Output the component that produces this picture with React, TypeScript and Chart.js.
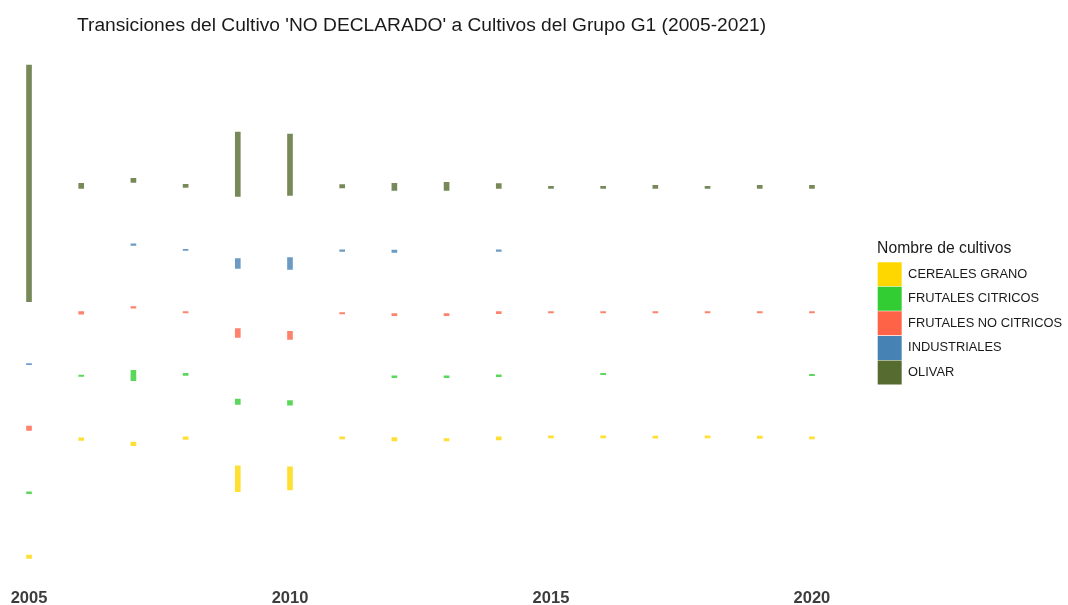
import React, { useEffect, useRef } from "react";
import { Chart, registerables } from "chart.js";

Chart.register(...registerables);

const FONT = '"Liberation Sans", Arial, sans-serif';

const titleText = "Transiciones del Cultivo 'NO DECLARADO' a Cultivos del Grupo G1 (2005-2021)";
const legendTitle = "Nombre de cultivos";

const years = [2005, 2006, 2007, 2008, 2009, 2010, 2011, 2012, 2013, 2014, 2015, 2016, 2017, 2018, 2019, 2020];
const xTickYears = [2005, 2010, 2015, 2020];

const categories = ["CEREALES GRANO", "FRUTALES CITRICOS", "FRUTALES NO CITRICOS", "INDUSTRIALES", "OLIVAR"];
const legendColors = ["#FFD700", "#32CD32", "#FF6347", "#4682B4", "#556B2F"];
const barColors = [
  "rgba(255,215,0,0.8)",
  "rgba(50,205,50,0.8)",
  "rgba(255,99,71,0.8)",
  "rgba(70,130,180,0.8)",
  "rgba(85,107,47,0.8)",
];

// stratum extents (lower / upper) per year
const cerealesLow = [42.7, 160.3, 155.3, 161.3, 109.3, 111, 162, 160, 160, 161, 163, 163, 162.7, 163, 162.3, 162];
const cerealesHigh = [46, 163, 158.7, 164, 135, 134, 164, 163.3, 162.3, 164, 165, 165, 164.7, 165, 164.7, 164];

const citricosLow = [107.3, 224.3, 220, 225.3, 196.3, 195.7, null, 223, 223, 224, null, 226, null, null, null, 225];
const citricosHigh = [109, 225.7, 230.3, 227.3, 201.7, 200.3, null, 225, 225, 226, null, 227.3, null, null, null, 226.3];

const noCitricosLow = [170.3, 286.3, 292.3, 287.7, 263.3, 261.3, 286.7, 285, 285, 287, 287.7, 287.7, 287.7, 287.7, 287.7, 287.7];
const noCitricosHigh = [174.7, 289, 294, 289, 272, 269.3, 288, 287, 287, 289, 289, 289, 289, 289, 289, 289];

const industrialesLow = [236, null, 355, 350, 332, 331, 349, 348, null, 349, null, null, null, null, null, null];
const industrialesHigh = [237, null, 356.7, 351, 342, 343, 350.7, 350.3, null, 350.7, null, null, null, null, null, null];

const olivarLow = [299, 412, 418, 413, 404, 405, 412.3, 410, 410, 412, 412, 412, 412, 412, 412, 412];
const olivarHigh = [535, 417, 422, 416, 468, 466, 415.7, 417, 418, 416.7, 414, 414, 415, 414, 415, 415];

const lows = [cerealesLow, citricosLow, noCitricosLow, industrialesLow, olivarLow];
const highs = [cerealesHigh, citricosHigh, noCitricosHigh, industrialesHigh, olivarHigh];

const titlePlugin = {
  id: "leftTitle",
  afterDraw(chart: any) {
    const ctx = chart.ctx;
    ctx.save();
    ctx.font = `19.2px ${FONT}`;
    ctx.fillStyle = "#1a1a1a";
    ctx.textBaseline = "alphabetic";
    ctx.textAlign = "left";
    ctx.fillText(titleText, 77, 31);
    ctx.restore();
  },
};

export default function App() {
  const canvasRef = useRef<HTMLCanvasElement | null>(null);

  useEffect(() => {
    if (!canvasRef.current) return;
    const datasets = categories.map((name, ci) => ({
      label: name,
      data: years
        .map((yr, i) => (lows[ci][i] == null ? null : { x: yr, y: [lows[ci][i], highs[ci][i]] }))
        .filter((p) => p !== null),
      backgroundColor: barColors[ci],
      borderWidth: 0,
      barThickness: 5,
      grouped: false,
    }));

    const chart = new Chart(canvasRef.current, {
      type: "bar",
      data: { datasets: datasets as any },
      plugins: [titlePlugin],
      options: {
        animation: false,
        responsive: true,
        maintainAspectRatio: false,
        layout: { padding: { top: 40, right: -4, bottom: -7, left: 0 } },
        scales: {
          x: {
            type: "linear",
            offset: false,
            min: 2004.444,
            max: 2021.248,
            grid: { display: false, drawTicks: false },
            border: { display: false },
            afterBuildTicks: (scale: any) => {
              scale.ticks = xTickYears.map((v) => ({ value: v }));
            },
            ticks: {
              padding: 4,
              color: "#3d3d3d",
              font: { family: FONT, size: 16.5, weight: "bold", lineHeight: 1.1 },
              callback: (v: any) => String(v),
            },
          },
          y: {
            display: false,
            min: 15.3,
            max: 560,
          },
        },
        plugins: {
          title: { display: false },
          tooltip: { enabled: false },
          legend: {
            position: "right",
            align: "center",
            fullSize: false,
            title: {
              display: true,
              text: legendTitle,
              color: "#1a1a1a",
              position: "start",
              font: { family: FONT, size: 15.7 },
              padding: { top: 0, bottom: 2 },
            },
            labels: {
              boxWidth: 24,
              boxHeight: 24,
              padding: 0.6,
              color: "#1a1a1a",
              font: { family: FONT, size: 12.85 },
              generateLabels: () =>
                categories.map((name, i) => ({
                  text: name,
                  fillStyle: legendColors[i],
                  strokeStyle: legendColors[i],
                  lineWidth: 0,
                  hidden: false,
                  datasetIndex: i,
                  fontColor: "#1a1a1a",
                })),
            },
          },
        },
      },
    });
    return () => chart.destroy();
  }, []);

  return (
    <div style={{ position: "fixed", left: 0, top: 0, width: 1068, height: 605, background: "#fff" }}>
      <canvas ref={canvasRef} />
    </div>
  );
}
